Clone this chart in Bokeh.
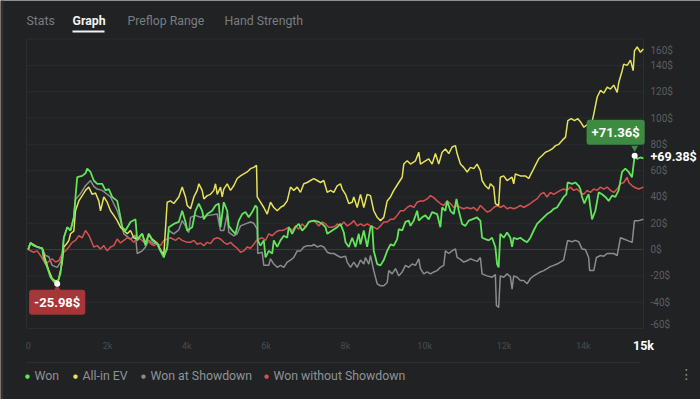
from bokeh.plotting import figure
from bokeh.models import Range1d, Label, BoxAnnotation
from bokeh.core.properties import value
from bokeh.embed import file_html
from bokeh.resources import INLINE

# ---------------- data (hands, $) ----------------
won_h = [0, 58, 134, 227, 353, 386, 479, 562, 638, 731, 815, 857, 898, 984, 1067, 1150, 1193, 1236,
         1362, 1445, 1488, 1571, 1654, 1740, 1866, 1950, 2033, 2118, 2245, 2328, 2371, 2454, 2580, 2706,
         2749, 2875, 2958, 3042, 3127, 3253, 3336, 3420, 3505, 3546, 3672, 3798, 3884, 3967, 4010, 4136,
         4219, 4303, 4388, 4429, 4514, 4640, 4724, 4807, 4850, 4933, 5019, 5059, 5145, 5228, 5311, 5397,
         5480, 5563, 5649, 5732, 5775, 5790, 5858, 5942, 5985, 6068, 6154, 6194, 6280, 6363, 6446, 6532,
         6572, 6658, 6741, 6824, 6910, 6993, 7077, 7203, 7329, 7415, 7498, 7541, 7667, 7793, 7876, 7960,
         8003, 8086, 8171, 8254, 8337, 8380, 8464, 8549, 8632, 8675, 8715, 8801, 8884, 8968, 9054, 9137,
         9220, 9306, 9346, 9432, 9515, 9598, 9641, 9724, 9810, 9850, 9935, 10018, 10102, 10187, 10313,
         10396, 10439, 10522, 10565, 10648, 10732, 10801, 10859, 10944, 11027, 11110, 11195, 11321, 11362,
         11404, 11447, 11530, 11614, 11699, 11782, 11825, 11865, 11907, 11992, 12077, 12160, 12203, 12245,
         12330, 12413, 12497, 12582, 12665, 12749, 12834, 12917, 13001, 13086, 13169, 13253, 13337, 13421,
         13504, 13573, 13605, 13716, 13800, 13883, 13926, 13968, 14027, 14095, 14135, 14178, 14221, 14304,
         14388, 14473, 14556, 14640, 14725, 14808, 14891, 14977, 15060, 15143, 15229, 15295, 15355, 15439,
         15515]
won_v = [0, 5, 3, 2, 1, -6, -13.5, -21, -24, -25.98, -18, -6, 9, 17, 14.5, 24.5, 40, 55,
         56, 58, 61.5, 59, 52.5, 50, 50, 45, 46, 40, 37, 24.5, 17, 14.5, 21, 23,
         7, 12, 3, 12, 7, 4.5, -1, -6, 2, 17, 19.5, 21, 29.5, 21, 14.5, 17,
         29.5, 35, 29.5, 23, 27, 29.5, 33.5, 35, 17, 36, 29.5, 18, 14.5, 12, 22, 27,
         28.5, 24.5, 28.5, 33.5, 32, 7, 3, 7, -6, -1, -3, 7, 2, 7, 10.5, 9,
         17, 12, 17, 19.5, 14.5, 17, 21, 22, 21, 19.5, 17, 12, 14.5, 17, 19.5, 13,
         5.5, 2, 9, 2, 12, 4, 14.5, 2, 17, 18, -1, -11, -12, -8, -1, 4,
         3, 8, 15.5, 14.5, 21, 22, 18, 22, 29.5, 22, 24.5, 26, 23, 28.5, 27,
         17, 32, 29.5, 37, 29.5, 27, 38.5, 29.5, 19.5, 18, 22, 23, 24.5, 23,
         22, 9, 8, 7, 9, 2, -11, -13.5, 12, 9, 13, 9, 2, 9,
         8, 9, 7, 5.5, 9, 14.5, 19.5, 22, 24.5, 27, 28.5, 31, 32, 36,
         40, 42, 51, 50, 51, 48.5, 46, 40, 35, 40, 42, 32, 23, 29.5,
         43.5, 42, 40, 37, 41, 40, 45, 59, 61.5, 59, 55, 71.36, 69, 70,
         69.38]

ev_h = [0, 58, 227, 353, 436, 520, 605, 689, 764, 857, 898, 984, 1026, 1067, 1150, 1193, 1276, 1362,
        1445, 1528, 1614, 1697, 1780, 1823, 1907, 1992, 2076, 2159, 2245, 2328, 2411, 2497, 2580, 2663,
        2749, 2875, 2958, 3042, 3127, 3253, 3336, 3420, 3505, 3588, 3672, 3798, 3884, 3967, 4010, 4094,
        4179, 4262, 4303, 4388, 4429, 4514, 4598, 4681, 4724, 4767, 4850, 4893, 4933, 5019, 5102, 5185,
        5271, 5354, 5437, 5523, 5606, 5690, 5758, 5775, 5858, 5942, 6028, 6111, 6194, 6280, 6363, 6446,
        6532, 6615, 6698, 6784, 6867, 6951, 7036, 7119, 7203, 7289, 7372, 7455, 7541, 7624, 7707, 7793,
        7876, 7919, 8003, 8086, 8171, 8211, 8297, 8380, 8464, 8549, 8632, 8715, 8801, 8884, 8968, 9054,
        9137, 9220, 9346, 9432, 9472, 9558, 9641, 9767, 9850, 9893, 10018, 10102, 10187, 10270, 10354,
        10439, 10522, 10607, 10691, 10775, 10817, 10901, 10984, 11071, 11154, 11237, 11321, 11404, 11447,
        11530, 11614, 11657, 11740, 11782, 11865, 11907, 11992, 12077, 12203, 12245, 12286, 12413, 12539,
        12622, 12707, 12790, 12874, 12963, 13045, 13128, 13215, 13298, 13381, 13467, 13551, 13610, 13695,
        13779, 13862, 13930, 14014, 14098, 14181, 14264, 14350, 14433, 14516, 14602, 14685, 14768, 14854,
        14894, 14980, 15020, 15106, 15189, 15257, 15290, 15358, 15441, 15515]
ev_v = [0, 5, 2, 1, -8, -16, -22, -24, -23, -10, 2, 5, 7, 12, 14, 29.5, 37, 41,
        45, 47.5, 42, 43, 37, 29.5, 40, 36, 29.5, 26, 22, 17, 14.5, 12, 14.5, 9,
        8, 12, 4, 12, 8, 5, 0, -4, 36, 37, 35, 40, 47.5, 40, 33.5, 31,
        40, 45, 50, 45, 38.5, 41, 42, 45, 50, 42, 47.5, 40, 46, 50, 45, 48.5,
        54, 56, 57.5, 59, 61.5, 62.5, 64, 40, 36, 32, 27, 36, 32, 29.5, 32, 33.5,
        37, 47.5, 45, 47.5, 43.5, 50, 51, 52.5, 54, 52.5, 51, 52.5, 43.5, 45, 43.5, 48.5,
        50, 46, 42, 35, 36, 40, 32, 42, 32, 42, 41, 29.5, 24.5, 22, 24.5, 37,
        40, 45, 51, 55, 65, 67.5, 65, 67.5, 74, 65, 67.5, 69, 65, 73, 65,
        74, 76.5, 73, 78, 79, 73, 65, 62.5, 59, 62.5, 61.5, 65, 60, 52.5,
        48.5, 46, 50, 47.5, 35, 33.5, 55, 56, 52.5, 55, 50, 57.5, 56, 56,
        54, 59, 64, 69, 71.5, 74, 75, 76.5, 79, 80, 83, 85.5, 98, 99.5,
        98, 99.5, 97, 93, 95, 92, 103, 116, 121, 119, 123.5, 122, 125, 119.5,
        127, 136, 141, 140, 144, 136, 151, 154, 150, 152.5]

sd_h = [0, 58, 227, 353, 436, 520, 605, 731, 815, 857, 898, 984, 1067, 1150, 1193, 1319, 1445, 1571,
        1654, 1740, 1866, 1950, 2076, 2245, 2328, 2411, 2580, 2706, 2749, 2875, 2958, 3042, 3127, 3253,
        3336, 3420, 3505, 3546, 3672, 3798, 3884, 3967, 4010, 4051, 4094, 4219, 4346, 4555, 4767, 4850,
        4933, 5019, 5059, 5185, 5271, 5354, 5480, 5606, 5690, 5775, 5790, 5901, 5942, 6068, 6111, 6194,
        6280, 6363, 6446, 6532, 6615, 6698, 6784, 6867, 6951, 7036, 7162, 7203, 7289, 7372, 7455, 7541,
        7624, 7707, 7793, 7876, 8003, 8045, 8129, 8211, 8297, 8380, 8464, 8507, 8590, 8632, 8715, 8801,
        8884, 8968, 9054, 9094, 9180, 9263, 9346, 9432, 9515, 9598, 9684, 9767, 9850, 9893, 9976, 10063,
        10146, 10229, 10313, 10396, 10481, 10522, 10607, 10691, 10775, 10817, 10901, 10984, 11071, 11154,
        11237, 11321, 11404, 11447, 11573, 11699, 11782, 11808, 11865, 11907, 11992, 12077, 12160, 12203,
        12245, 12330, 12413, 12497, 12582, 12665, 12749, 12834, 12917, 13001, 13086, 13169, 13253, 13337,
        13421, 13504, 13605, 13716, 13800, 13883, 13968, 14051, 14135, 14160, 14264, 14332, 14433, 14516,
        14602, 14768, 14854, 14937, 15020, 15106, 15232, 15290, 15399, 15515]
sd_v = [0, 5, 2, 1, -4.5, -5.5, -12, -13.5, -9.5, -4, 9, 17, 14.5, 24.5, 38, 42.5, 48.5, 52.5,
        48, 46, 45, 43, 40, 29.5, 22, 12, 8, 11, -3, -1, 2, 7, 5, 4,
        -1, -4.5, 0, 14.5, 12, 15, 22, 18, 14.5, 13, 24.5, 26, 24.5, 26, 27, 14.5,
        14.5, 27, 13, 10.5, 12, 18, 19.5, 21, 20, 15.5, -3, -2, -12, -12, -7, -11,
        -13.5, -12, -13.5, -9.5, -8, -6, -1, -1, 2, 3, 3, 4, 2, 3, 2, -2,
        -3, -3, -4.5, -6, -5, -9.5, -13.5, -9.5, -13.5, -8, -11, -6, -11, -4.5, -16, -26,
        -27.5, -27.5, -25, -16, -18.5, -14.5, -20, -17, -12, -13.5, -11, -12, -7, -14.5, -18.5, -17,
        -18.5, -17, -16, -13.5, -12, -1, -3, -1, 0.5, -6, -7.5, -9.5, -8.5, -7,
        -8, -9, -6, -18.5, -20, -21, -19, -42.5, -44, -20, -21, -18.5, -20.5, -30,
        -20, -21, -23.5, -23.5, -26, -22, -20, -18.5, -17, -16, -14.5, -13, -12, -11,
        -9.5, -8, 7, 6, 7, 6, 0.5, 0, -6, -16, -16, -6, -4.5, -5,
        -3, -3, -4.5, 9, 8, 7, 5.5, 22, 22, 23]

nsd_h = [0, 134, 227, 310, 436, 520, 605, 689, 772, 857, 941, 1024, 1110, 1193, 1276, 1362, 1445, 1528,
         1571, 1654, 1740, 1823, 1907, 1992, 2076, 2159, 2245, 2328, 2411, 2497, 2580, 2663, 2749, 2832,
         2916, 3001, 3084, 3168, 3253, 3336, 3420, 3505, 3588, 3714, 3798, 3884, 4010, 4094, 4179, 4262,
         4346, 4429, 4514, 4598, 4681, 4767, 4850, 4933, 5019, 5102, 5185, 5271, 5354, 5437, 5523, 5606,
         5690, 5758, 5816, 5901, 5985, 6068, 6154, 6237, 6321, 6406, 6489, 6572, 6658, 6741, 6824, 6910,
         6993, 7077, 7162, 7245, 7329, 7415, 7498, 7581, 7667, 7750, 7793, 7876, 7960, 8045, 8129, 8211,
         8297, 8380, 8464, 8549, 8632, 8715, 8801, 8884, 8968, 9054, 9137, 9220, 9306, 9389, 9472, 9558,
         9641, 9724, 9810, 9893, 9976, 10063, 10146, 10229, 10313, 10396, 10481, 10565, 10648, 10732,
         10817, 10901, 10984, 11071, 11154, 11237, 11321, 11404, 11489, 11573, 11657, 11740, 11825, 11907,
         11992, 12077, 12160, 12245, 12330, 12413, 12497, 12582, 12665, 12749, 12834, 12917, 13001, 13086,
         13169, 13253, 13337, 13421, 13504, 13589, 13672, 13757, 13840, 13930, 14014, 14098, 14181, 14264,
         14350, 14433, 14516, 14602, 14685, 14768, 14854, 14937, 15020, 15106, 15147, 15232, 15315, 15399,
         15515]
nsd_v = [0, -2, -1, -4.5, -11, -9, -7, -9.5, -8.5, -3, -1, 2, 5.5, 7, 10.5, 9, 14.5, 11,
         8, 2, 3, 0.5, 3, -1, 2, 3, 8, 5, 7, 9, 8, 5.5, 9, 8,
         5.5, 8, 4.5, 3, 4.5, 3, 7, 8, 9, 7, 9, 7, 5.5, 5.5, 7, 4,
         5, 3, 5.5, 4.5, 8, 9, 8, 5.5, 4, 5.5, 3, 1, -2, -1, 2, 1,
         4, 7, 8, 9, 7, 12, 10.5, 13, 14.5, 14.5, 15.5, 17, 14.5, 18, 15.5, 19.5,
         17, 21, 22, 21, 18, 21, 19.5, 17, 17, 18, 19.5, 18, 21, 18, 19.5, 22,
         18, 19.5, 18, 19.5, 18, 17, 15.5, 18, 21, 21, 23, 23, 26, 29.5, 29.5, 32,
         33.5, 32, 36, 37, 37, 38.5, 41, 39.5, 37, 35, 33.5, 37, 35, 32,
         33.5, 32, 31, 32, 31, 32, 29.5, 33.5, 31, 28.5, 29.5, 32, 33.5, 32,
         33.5, 31, 32, 31, 32, 33.5, 32, 33.5, 35, 37, 38.5, 42, 43.5, 40,
         43.5, 42, 43.5, 45, 46, 45, 47.5, 45, 46, 43.5, 42, 45, 43.5, 46,
         45, 47.5, 46, 47.5, 45, 43.5, 46, 50, 51, 55, 51, 48.5, 47, 46,
         47.5]

series_names = ["Won", "All-in EV", "Won at Showdown", "Won without Showdown"]
series_colors = ["#62e45c", "#e6e25a", "#8b8c8d", "#d65252"]

x_ticks = [0, 2000, 4000, 6000, 8000, 10000, 12000, 14000]
x_tick_labels = ["0", "2k", "4k", "6k", "8k", "10k", "12k", "14k"]
x_end_label = "15k"
y_ticks = [-60, -40, -20, 0, 20, 40, 60, 80, 100, 120, 140, 160]
y_tick_labels = ["-60$", "-40$", "-20$", "0$", "20$", "40$", "60$", "80$", "100$", "120$", "140$", "160$"]

tabs = ["Stats", "Graph", "Preflop Range", "Hand Strength"]
active_tab = "Graph"

# ---------------- layout ----------------
BG = "#202224"
FONT = "Roboto"
W, H = 700, 399
# plot area in data units and its placement on the canvas (px)
X_LEFT, X_RIGHT = -43, 15518
Y_BOT, Y_TOP = -60, 160
PX_LEFT, PX_RIGHT = 26, 643
PX_TOP, PX_BOT = 38.6, 328
PPX = (PX_RIGHT - PX_LEFT) / (X_RIGHT - X_LEFT)     # px per hand
PPY = (PX_BOT - PX_TOP) / (Y_TOP - Y_BOT)           # px per $

x_range = Range1d(X_LEFT - PX_LEFT / PPX, X_RIGHT + (W - PX_RIGHT) / PPX)
y_range = Range1d(Y_BOT - (H - PX_BOT) / PPY, Y_TOP + PX_TOP / PPY)

p = figure(width=W, height=H, output_backend="svg", toolbar_location=None,
           x_range=x_range, y_range=y_range, x_axis_location=None, y_axis_location=None,
           min_border=0, min_border_left=0, min_border_right=0, min_border_top=0, min_border_bottom=0,
           background_fill_color=BG, border_fill_color=BG, outline_line_color=None)
p.xgrid.visible = False
p.ygrid.visible = False


def dx(px):
    return px / PPX


def dy(px):
    return px / PPY


def scr(px, py):
    return px, H - py


# faint window edge on the far left
p.add_layout(BoxAnnotation(left=0, right=3, bottom=0, top=H, left_units="screen", right_units="screen",
                           bottom_units="screen", top_units="screen", fill_color="#3a2c25",
                           fill_alpha=1, line_color=None))

# grid lines + frame sides
grid_y = [t for t in y_ticks]
p.segment(x0=[X_LEFT] * len(grid_y), y0=grid_y, x1=[X_RIGHT] * len(grid_y), y1=grid_y,
          line_color=["#3b3e41" if t == 0 else "#2a2d2f" for t in grid_y], line_width=1)
p.segment(x0=[X_LEFT, X_RIGHT], y0=[Y_BOT, Y_BOT], x1=[X_LEFT, X_RIGHT], y1=[Y_TOP, Y_TOP],
          line_color="#2c2f31", line_width=1)

# x tick labels (through the data scale)
xlab_y = Y_BOT - dy(17)
p.text(x=x_ticks, y=[xlab_y] * len(x_ticks), text=x_tick_labels, text_align="center",
       text_baseline="middle", text_color="#4a4d50", text_font=value(FONT), text_font_size="9px")
p.text(x=[X_RIGHT], y=[xlab_y], text=[x_end_label], text_align="center", text_baseline="middle",
       text_color="white", text_font=value(FONT), text_font_size="12.5px", text_font_style="bold")

# y tick labels (edge labels pulled inside the plot area)
lo_lim = Y_BOT + dy(4)
hi_lim = Y_TOP - dy(11)
y_pos = [min(max(t, lo_lim), hi_lim) for t in y_ticks]
p.text(x=[X_RIGHT + dx(7)] * len(y_ticks), y=y_pos, text=y_tick_labels, text_align="left",
       text_baseline="middle", text_color="#5c5f62", text_font=value(FONT), text_font_size="10px")

# series lines (grey, red, yellow, green on top)
p.line(sd_h, sd_v, line_color=series_colors[2], line_width=1.5)
p.line(nsd_h, nsd_v, line_color=series_colors[3], line_width=1.5)
p.line(ev_h, ev_v, line_color=series_colors[1], line_width=1.5)
p.line(won_h, won_v, line_color=series_colors[0], line_width=1.8)

# min / max callouts of "Won"
i_min = won_v.index(min(won_v))
i_max = won_v.index(max(won_v))
h_min, v_min = won_h[i_min], won_v[i_min]
h_max, v_max = won_h[i_max], won_v[i_max]

p.scatter([h_min], [v_min - dy(5)], marker="triangle", size=7, fill_color="#a83538", line_color=None)
p.scatter([h_max], [v_max + dy(8)], marker="inverted_triangle", size=7, fill_color="#3c8b40", line_color=None)
p.scatter([h_min, h_max], [v_min, v_max], size=6, fill_color="white", line_color=None)

p.add_layout(Label(x=h_min, y=v_min, text=f"{v_min:+.2f}$", text_align="center", text_baseline="top",
                   y_offset=-6, text_color="white", text_font=FONT, text_font_size="13px",
                   text_font_style="bold", background_fill_color="#a83538", padding=5, border_radius=3))
p.add_layout(Label(x=h_max, y=v_max, text=f"{v_max:+.2f}$", text_align="center", text_baseline="bottom",
                   x_offset=-19, y_offset=11, text_color="white", text_font=FONT, text_font_size="13px",
                   text_font_style="bold", background_fill_color="#3c8b40", padding=5, border_radius=3))

# last value label next to the right axis
p.text(x=[X_RIGHT + dx(7)], y=[won_v[-1] + dy(1.5)], text=[f"{won_v[-1]:+.2f}$"], text_align="left",
       text_baseline="middle", text_color="white", text_font=value(FONT), text_font_size="12.5px",
       text_font_style="bold")

# tabs
tab_x = [26, 72, 127, 224]
for name, tx in zip(tabs, tab_x):
    sx, sy = scr(tx, 20)
    active = name == active_tab
    p.add_layout(Label(x=sx, y=sy, x_units="screen", y_units="screen", text=name,
                       text_baseline="middle", text_color="#f2f2f2" if active else "#7a7d80",
                       text_font=FONT, text_font_size="12.3px",
                       text_font_style="bold" if active else "normal"))
ux0, uy0 = scr(72, 32)
ux1, uy1 = scr(104, 30)
p.add_layout(BoxAnnotation(left=ux0, right=ux1, bottom=uy0, top=uy1, left_units="screen",
                           right_units="screen", bottom_units="screen", top_units="screen",
                           fill_color="#f2f2f2", fill_alpha=1, line_color=None))

# separator above legend
sx0, sy0 = scr(26, 362.5)
sx1, sy1 = scr(640, 361.5)
p.add_layout(BoxAnnotation(left=sx0, right=sx1, bottom=sy0, top=sy1, left_units="screen",
                           right_units="screen", bottom_units="screen", top_units="screen",
                           fill_color="#2d3032", fill_alpha=1, line_color=None))

# legend
dot_x = [27, 75, 143, 266]
for name, col, dxp in zip(series_names, series_colors, dot_x):
    sx, sy = scr(dxp, 375)
    p.add_layout(Label(x=sx, y=sy, x_units="screen", y_units="screen", text="●", text_align="center",
                       text_baseline="middle", text_color=col, text_font="DejaVu Sans", text_font_size="5.5px"))
    p.add_layout(Label(x=sx + 7, y=sy, x_units="screen", y_units="screen", text=name,
                       text_baseline="middle", text_color="#909396", text_font=FONT, text_font_size="12.3px"))

kx, ky = scr(686, 373)
p.add_layout(Label(x=kx, y=ky, x_units="screen", y_units="screen", text="⋮", text_align="center",
                   text_baseline="middle", text_color="#8a8d90", text_font="DejaVu Sans", text_font_size="14px"))

html = file_html(p, INLINE)
html = html.replace("<body>", f'<body style="background-color:{BG};">', 1)
open("out.html", "w").write(html)
